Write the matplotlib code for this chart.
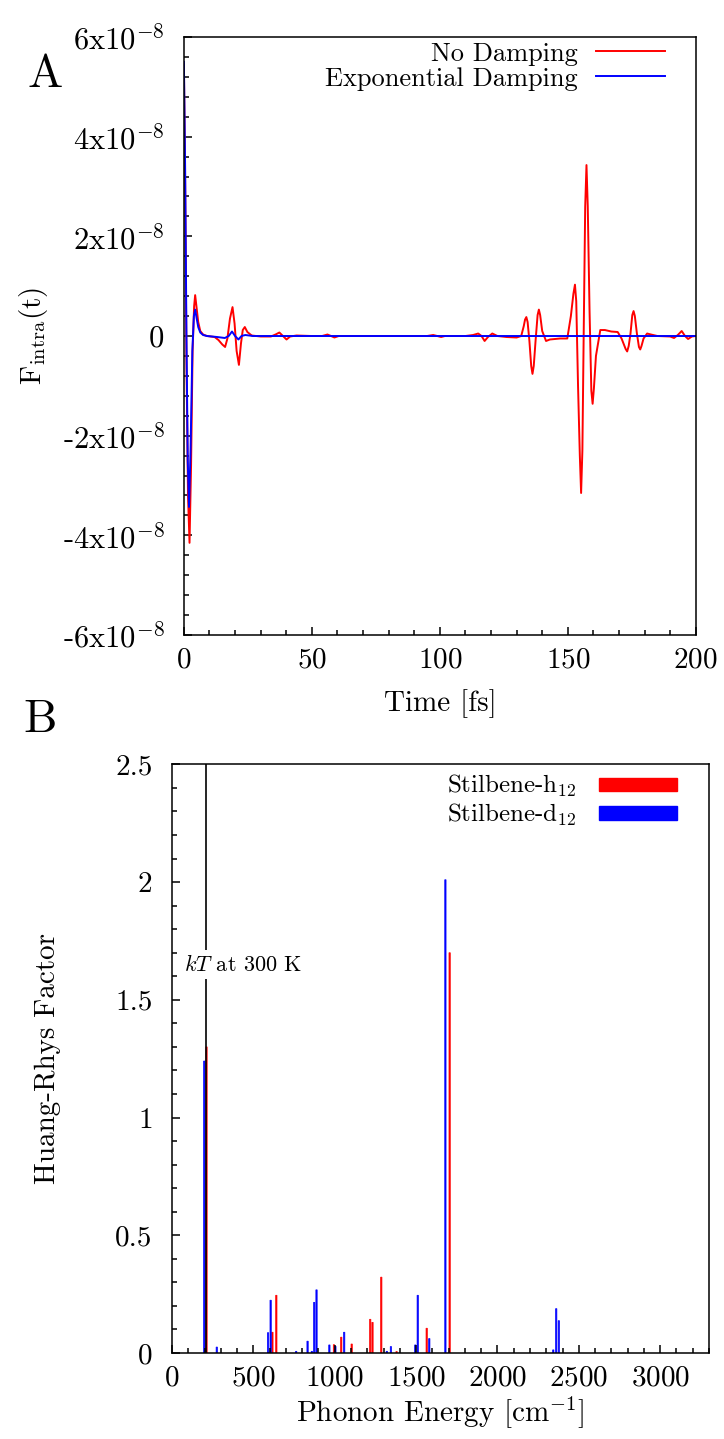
import numpy as np
import matplotlib
matplotlib.use('Agg')
import matplotlib.pyplot as plt
from matplotlib.patches import Patch
from matplotlib.ticker import MultipleLocator

plt.rcParams['font.family'] = 'serif'
plt.rcParams['font.serif'] = ['cmr10']
plt.rcParams['mathtext.fontset'] = 'cm'
plt.rcParams['axes.unicode_minus'] = False
plt.rcParams['axes.formatter.use_mathtext'] = True

# ---- panel A data: F_intra(t) in units of 1e-8 ----
t_nodamp = [0, 0.5, 1.0, 1.6, 2.2, 2.8, 3.4, 4.0, 4.4, 5.0, 5.6, 6.4, 7.5, 9, 12, 13.5, 15, 16.1,
            17.0, 18.0, 19.0, 19.8, 20.6, 21.5, 22.3, 23.0, 23.8, 24.8, 26.5, 30, 34, 35.8, 37.3,
            38.7, 40.1, 41.5, 44, 50, 54, 56.1, 57.5, 58.8, 60.5, 70, 80, 95, 97.4, 99, 100.5,
            102, 110, 113, 115.0, 116.3, 117.5, 118.8, 120.5, 122.5, 126, 130, 131.8, 132.8,
            133.3, 133.8, 134.3, 135.0, 135.7, 136.2, 136.7, 137.4, 138.2, 138.7, 139.2, 140.0,
            141.5, 143, 147, 149.8, 151.2, 152.2, 152.8, 153.3, 154.0, 154.7, 155.2, 155.7,
            156.2, 156.8, 157.3, 157.8, 158.5, 159.2, 159.7, 160.2, 161.0, 162.7, 164.5, 167,
            169.5, 171.0, 172.6, 173.2, 173.8, 174.5, 175.2, 175.7, 176.2, 177.0, 177.8, 178.3,
            178.8, 179.6, 181.0, 182.5, 185, 190, 191.5, 193.0, 194.5, 195.8, 197.0, 198.5, 200]
f_nodamp = [5.45, 3.0, -0.5, -3.2, -4.15, -2.6, -0.3, 0.6, 0.82, 0.55, 0.28, 0.1, 0.03, 0.0, -0.02,
            -0.08, -0.17, -0.22, -0.05, 0.35, 0.58, 0.25, -0.3, -0.58, -0.15, 0.12, 0.18, 0.08,
            0.01, -0.01, -0.01, 0.03, 0.07, 0.0, -0.07, -0.01, 0.01, 0.0, 0.0, 0.03, 0.0, -0.03,
            0.0, 0.0, 0.0, 0.0, 0.02, 0.0, -0.02, 0.0, 0.0, 0.02, 0.05, 0.0, -0.1, -0.02, 0.05,
            0.0, -0.02, -0.03, 0.0, 0.2,
            0.33, 0.38, 0.28, -0.1, -0.6, -0.76, -0.6, -0.1, 0.42, 0.53, 0.42, 0.1,
            -0.1, -0.07, -0.05, -0.05, 0.4, 0.85, 1.03, 0.7, -1.0, -2.4, -3.15, -2.3,
            0.0, 2.6, 3.43, 2.6, 0.5, -1.1, -1.36, -1.05, -0.4, 0.12, 0.12, 0.09,
            0.08, -0.05, -0.26, -0.31, -0.2, 0.05, 0.42, 0.5, 0.4, 0.05, -0.22, -0.27,
            -0.2, -0.05, 0.05, 0.03, 0.0, -0.01, -0.04, 0.02, 0.10, 0.0, -0.06, -0.01, 0.0]

t_expdamp = [0, 0.5, 1.0, 1.5, 2.0, 2.6, 3.3, 3.9, 4.4, 5.0, 5.6, 6.4, 7.5, 9, 13, 16, 17.5, 18.8,
             20.0, 21.3, 22.5, 24, 27, 200]
f_expdamp = [5.5, 3.3, 0.0, -2.5, -3.43, -2.3, -0.3, 0.4, 0.53, 0.35, 0.18, 0.07, 0.02, 0.0, -0.02,
             -0.04, 0.0, 0.09, 0.0, -0.07, 0.0, 0.02, 0.0, 0.0]

# ---- panel B data: Huang-Rhys factors ----
kT_300 = 208.5
h12_energy = [212, 617, 641, 995, 1040, 1104, 1218, 1232, 1286, 1380, 1565, 1706]
h12_factor = [1.30, 0.088, 0.245, 0.035, 0.067, 0.038, 0.143, 0.130, 0.322, 0.006, 0.105, 1.70]
d12_energy = [198, 275, 590, 606, 763, 833, 859, 874, 888, 967, 1004, 1058, 1320, 1345, 1495,
              1510, 1581, 1680, 2343, 2361, 2377]
d12_factor = [1.24, 0.025, 0.086, 0.224, 0.007, 0.05, 0.007, 0.215, 0.268, 0.034, 0.028, 0.088,
              0.007, 0.027, 0.034, 0.245, 0.061, 2.01, 0.013, 0.188, 0.137]

fs = 21
fig = plt.figure(figsize=(7.24, 14.39), dpi=100)

# ---------------- panel A ----------------
ax1 = fig.add_axes([0.254, 0.5587, 0.707, 0.4156])
ax1.plot(t_nodamp, np.array(f_nodamp) * 1e-8, color='red', lw=1.4, label='No Damping')
ax1.plot(t_expdamp, np.array(f_expdamp) * 1e-8, color='blue', lw=1.4, label='Exponential Damping')
ax1.set_xlim(0, 200)
ax1.set_ylim(-6e-8, 6e-8)
ax1.xaxis.set_major_locator(MultipleLocator(50))
ax1.xaxis.set_minor_locator(MultipleLocator(10))
yt = [-6e-8, -4e-8, -2e-8, 0, 2e-8, 4e-8, 6e-8]
ax1.set_yticks(yt)
ax1.set_yticklabels(['-6x10$^{\\mathrm{-8}}$', '-4x10$^{\\mathrm{-8}}$', '-2x10$^{\\mathrm{-8}}$',
                     '0', '2x10$^{\\mathrm{-8}}$', '4x10$^{\\mathrm{-8}}$', '6x10$^{\\mathrm{-8}}$'])
ax1.yaxis.set_minor_locator(MultipleLocator(0.4e-8))
ax1.set_xlabel('Time [fs]', fontsize=fs)
ax1.set_ylabel(r'F$_{\rm intra}$(t)', fontsize=fs)
ax1.xaxis.set_label_coords(0.5, -0.09)
ax1.yaxis.set_label_coords(-0.262, 0.5)
ax1.legend(loc='upper right', bbox_to_anchor=(0.94, 0.992), frameon=False,
           markerfirst=False, fontsize=19, handlelength=2.6, handletextpad=0.7,
           labelspacing=0.05, borderpad=0, borderaxespad=0)

# ---------------- panel B ----------------
ax2 = fig.add_axes([0.2376, 0.0598, 0.7417, 0.409])
ax2.bar(h12_energy, h12_factor, width=8, color='red', edgecolor='red', linewidth=0.5, snap=False)
ax2.bar(d12_energy, d12_factor, width=8, color='blue', edgecolor='blue', linewidth=0.5, snap=False)
ax2.axvline(kT_300, color='black', lw=1.2, zorder=1)
ax2.text(440, 1.65, r'$kT$ at 300 K', fontsize=16, ha='center', va='center',
         bbox=dict(facecolor='white', edgecolor='none', pad=3), zorder=3)
ax2.set_xlim(0, 3300)
ax2.set_ylim(0, 2.5)
ax2.xaxis.set_major_locator(MultipleLocator(500))
ax2.xaxis.set_minor_locator(MultipleLocator(100))
ax2.set_yticks([0, 0.5, 1, 1.5, 2, 2.5])
ax2.set_yticklabels(['0', '0.5', '1', '1.5', '2', '2.5'])
ax2.yaxis.set_minor_locator(MultipleLocator(0.1))
ax2.set_xlabel('Phonon Energy [cm$^{\\mathrm{-1}}$]', fontsize=fs)
ax2.set_ylabel('Huang-Rhys Factor', fontsize=fs)
ax2.xaxis.set_label_coords(0.5, -0.07)
ax2.yaxis.set_label_coords(-0.207, 0.5)
handles = [Patch(color='red'), Patch(color='blue')]
ax2.legend(handles, [r'Stilbene-h$_{12}$', r'Stilbene-d$_{12}$'], loc='upper right',
           bbox_to_anchor=(0.94, 0.985), frameon=False, markerfirst=False, fontsize=18,
           handlelength=3.1, handleheight=0.45, handletextpad=0.9, labelspacing=0.1,
           borderpad=0, borderaxespad=0)

for ax in (ax1, ax2):
    ax.tick_params(which='both', direction='in', top=False, right=False, labelsize=fs, width=1.1)
    ax.tick_params(which='major', length=6)
    ax.tick_params(which='minor', length=3.5)
    ax.tick_params(axis='y', pad=14)
    ax.tick_params(axis='x', pad=9)
    for s in ax.spines.values():
        s.set_linewidth(1.1)
ax1.tick_params(axis='y', labelsize=22)

fig.text(0.062, 0.948, 'A', fontsize=34, ha='center', va='center')
fig.text(0.055, 0.4997, 'B', fontsize=34, ha='center', va='center')

fig.savefig('out.png', dpi=100)
